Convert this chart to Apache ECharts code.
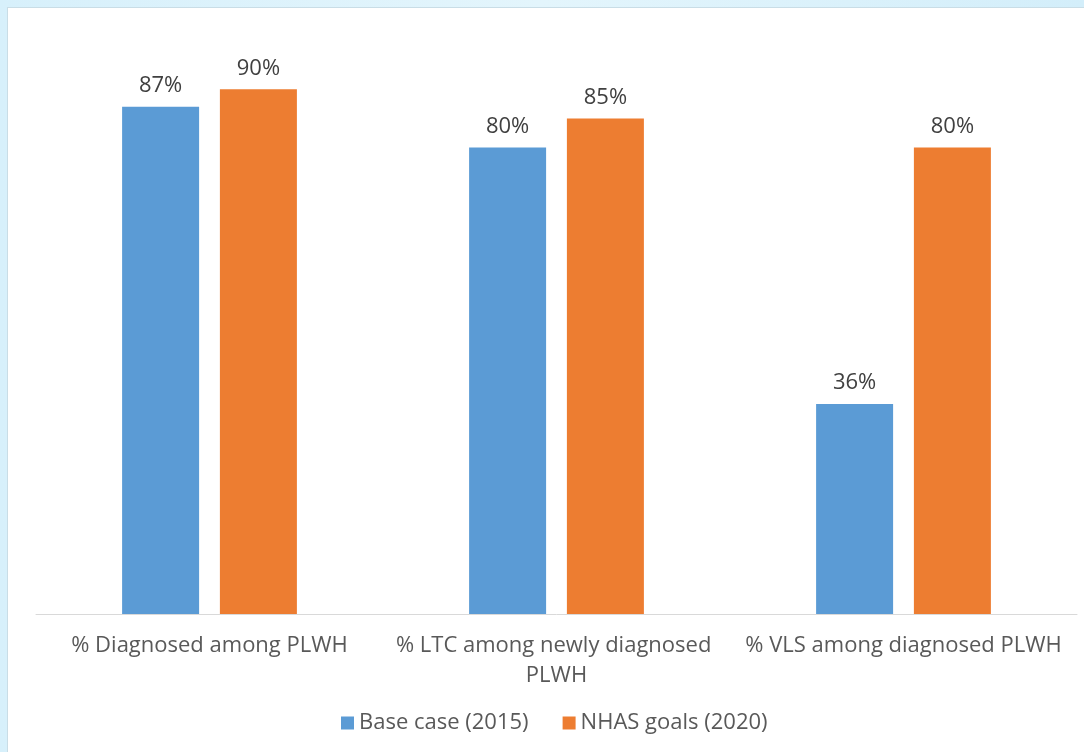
<!DOCTYPE html>
<html>
<head>
<meta charset="utf-8">
<script src="https://cdn.jsdelivr.net/npm/echarts@6/dist/echarts.min.js"></script>
<style>
  html, body { margin: 0; padding: 0; }
  body {
    width: 1084px;
    height: 752px;
    background: linear-gradient(90deg, #d7f0fb 0%, #e3f5fc 50%, #d3eefa 100%);
    position: relative;
    overflow: hidden;
  }
  #chart {
    position: absolute;
    left: 7px;
    top: 7px;
    width: 1077px;
    height: 745px;
    background: #ffffff;
    border-left: 1px solid #c9dde6;
    border-top: 1px solid #c9dde6;
  }
</style>
</head>
<body>
<div id="chart"></div>
<script>
var categories = ['% Diagnosed among PLWH', '% LTC among newly diagnosed PLWH', '% VLS among diagnosed PLWH'];
var baseCase = [87, 80, 36];
var nhasGoals = [90, 85, 80];

var chart = echarts.init(document.getElementById('chart'));

var labelStyle = {
  show: true,
  position: 'top',
  distance: 10,
  formatter: '{c}%',
  color: '#404040',
  fontSize: 22,
  fontFamily: 'Open Sans'
};

chart.setOption({
  animation: false,
  grid: { left: 28, right: 8, top: 23, bottom: 139 },
  xAxis: {
    type: 'category',
    data: categories,
    axisLine: { lineStyle: { color: '#d9d9d9', width: 1 } },
    axisTick: { show: false },
    axisLabel: {
      color: '#595959',
      fontSize: 22,
      fontFamily: 'Open Sans',
      margin: 17,
      width: 340,
      overflow: 'break',
      lineHeight: 30,
      interval: 0
    }
  },
  yAxis: {
    type: 'value',
    min: 0,
    max: 100,
    show: false,
    splitLine: { show: false }
  },
  legend: {
    bottom: 14,
    left: 328,
    itemWidth: 13,
    itemHeight: 13,
    itemGap: 34,
    icon: 'rect',
    textStyle: { color: '#595959', fontSize: 22, fontFamily: 'Open Sans' }
  },
  series: [
    {
      name: 'Base case (2015)',
      type: 'bar',
      data: baseCase,
      barWidth: 77,
      barGap: '27%',
      itemStyle: { color: '#5b9bd5' },
      label: labelStyle
    },
    {
      name: 'NHAS goals (2020)',
      type: 'bar',
      data: nhasGoals,
      barWidth: 77,
      itemStyle: { color: '#ed7d31' },
      label: labelStyle
    }
  ]
});
</script>
</body>
</html>
